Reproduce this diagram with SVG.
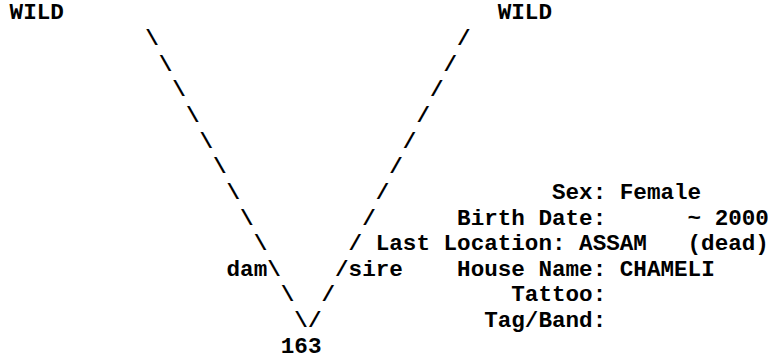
<svg xmlns="http://www.w3.org/2000/svg" width="768" height="358" viewBox="0 0 768 358">
<style>
.t{font-family:"Liberation Mono","Courier New",monospace;font-weight:bold;font-size:22.6px;fill:#000;white-space:pre}
</style>
<rect x="0" y="0" width="768" height="358" fill="#fff"/>
<g id="wild-dam"><text class="t" x="9.6" y="19.3">WILD</text></g>
<g id="wild-sire"><text class="t" x="497.76" y="19.3">WILD</text></g>
<g id="connectors">
<text class="t" x="145.2" y="44.95">\</text><text class="t" x="457.08" y="44.95">/</text>
<text class="t" x="158.76" y="70.6">\</text><text class="t" x="443.52" y="70.6">/</text>
<text class="t" x="172.32" y="96.25">\</text><text class="t" x="429.96" y="96.25">/</text>
<text class="t" x="185.88" y="121.9">\</text><text class="t" x="416.4" y="121.9">/</text>
<text class="t" x="199.44" y="147.55">\</text><text class="t" x="402.84" y="147.55">/</text>
<text class="t" x="213" y="173.2">\</text><text class="t" x="389.28" y="173.2">/</text>
<text class="t" x="226.56" y="198.85">\</text><text class="t" x="375.72" y="198.85">/</text>
<text class="t" x="240.12" y="224.5">\</text><text class="t" x="362.16" y="224.5">/</text>
<text class="t" x="253.68" y="250.15">\</text><text class="t" x="348.6" y="250.15">/</text>
<text class="t" x="226.56" y="275.8">dam\</text><text class="t" x="335.04" y="275.8">/sire</text>
<text class="t" x="280.8" y="301.45">\</text><text class="t" x="321.48" y="301.45">/</text>
<text class="t" x="294.36" y="327.1">\/</text>
</g>
<g id="animal-163">
<text class="t" x="280.8" y="352.75">163</text>
<text class="t" x="552" y="198.85">Sex: Female</text>
<text class="t" x="457.08" y="224.5" xml:space="preserve">Birth Date:      ~ 2000</text>
<text class="t" x="375.72" y="250.15" xml:space="preserve">Last Location: ASSAM   (dead)</text>
<text class="t" x="457.08" y="275.8">House Name: CHAMELI</text>
<text class="t" x="511.32" y="301.45">Tattoo:</text>
<text class="t" x="484.2" y="327.1">Tag/Band:</text>
</g>
</svg>
